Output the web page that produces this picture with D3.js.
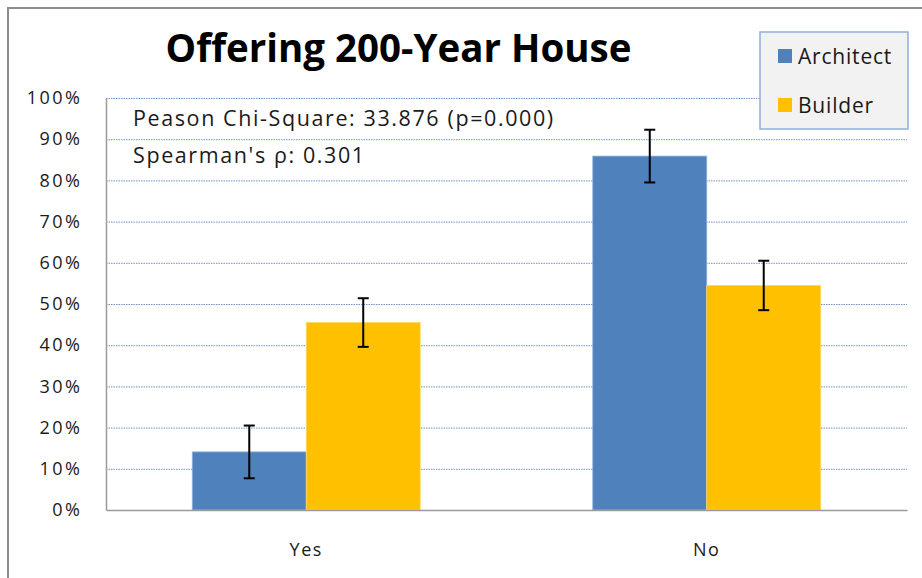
<!DOCTYPE html>
<html>
<head>
<meta charset="utf-8">
<script src="https://cdn.jsdelivr.net/npm/d3@7"></script>
<style>
  body { margin: 0; background: #fff; }
  svg { display: block; font-family: "Open Sans", Lato, sans-serif; }
</style>
</head>
<body>
<div id="chart"></div>
<script>
// data
var categories = ["Yes", "No"]
var series = ["Architect", "Builder"]
var architect = [0.141, 0.859]
var builder = [0.455, 0.545]
var architectErr = [0.064, 0.064]
var builderErr = [0.059, 0.060]
var yTicks = [0, 0.1, 0.2, 0.3, 0.4, 0.5, 0.6, 0.7, 0.8, 0.9, 1.0]
var title = "Offering 200-Year House"
var notes = ["Peason Chi-Square: 33.876 (p=0.000)", "Spearman's \u03c1: 0.301"]

var colors = { Architect: "#4f81bd", Builder: "#ffc000" }

var rows = categories.map((c, i) => ({
    cat: c,
    vals: [
        { key: "Architect", v: architect[i], e: architectErr[i] },
        { key: "Builder", v: builder[i], e: builderErr[i] }
    ]
}))

var width = 922, height = 578
var plot = { left: 106, right: 907, top: 98, bottom: 510 }

var svg = d3.select("#chart").append("svg")
    .attr("width", width)
    .attr("height", height)

// outer chart frame (cropped on right / bottom)
svg.append("rect")
    .attr("x", 8).attr("y", 8)
    .attr("width", width + 20).attr("height", height + 20)
    .attr("fill", "#fff")
    .attr("stroke", "#8c8c8c")
    .attr("stroke-width", 2)

var x = d3.scaleBand()
    .domain(categories)
    .range([plot.left, plot.right])

var xInner = d3.scaleBand()
    .domain(series)
    .range([0, x.bandwidth()])
    .paddingOuter(0.757)
    .paddingInner(0)

var y = d3.scaleLinear()
    .domain([0, 1])
    .range([plot.bottom, plot.top])

/* gridlines */
svg.append("g").attr("class", "grid")
    .selectAll("line")
    .data(yTicks.filter(d => d > 0))
    .enter().append("line")
    .attr("x1", plot.left).attr("x2", plot.right)
    .attr("y1", d => y(d) + 0.5).attr("y2", d => y(d) + 0.5)
    .attr("stroke", "#6f94c8")
    .attr("stroke-width", 1)
    .attr("stroke-dasharray", "1.5,1")

/* bars */
var groups = svg.append("g").selectAll(".grp")
    .data(rows).enter()
    .append("g")
    .attr("class", "grp")
    .attr("transform", d => `translate(${x(d.cat)},0)`)

groups.selectAll("rect")
    .data(d => d.vals).enter()
    .append("rect")
    .attr("x", d => xInner(d.key))
    .attr("y", d => y(d.v))
    .attr("width", xInner.bandwidth())
    .attr("height", d => y(0) - y(d.v))
    .attr("fill", d => colors[d.key])
    .attr("stroke", d => d.key == "Architect" ? "#8fb0da" : "#ffd866")
    .attr("stroke-width", 0.8)

/* error bars */
var eb = groups.selectAll(".err")
    .data(d => d.vals).enter()
    .append("g").attr("class", "err")
    .attr("stroke", "#000")
    .attr("stroke-width", 2)
var cx = d => xInner(d.key) + xInner.bandwidth() / 2
eb.append("line")
    .attr("x1", cx).attr("x2", cx)
    .attr("y1", d => y(d.v + d.e)).attr("y2", d => y(d.v - d.e))
eb.append("line")
    .attr("x1", d => cx(d) - 5.5).attr("x2", d => cx(d) + 5.5)
    .attr("y1", d => y(d.v + d.e)).attr("y2", d => y(d.v + d.e))
eb.append("line")
    .attr("x1", d => cx(d) - 5.5).attr("x2", d => cx(d) + 5.5)
    .attr("y1", d => y(d.v - d.e)).attr("y2", d => y(d.v - d.e))

/* axes */
var yAxis = d3.axisLeft(y).tickValues(yTicks).tickFormat(d3.format(".0%")).tickSize(0).tickPadding(23.5)
var gy = svg.append("g")
    .attr("transform", `translate(${plot.left},0)`)
    .call(yAxis)
gy.select(".domain").attr("stroke", "#9a9a9a").attr("stroke-width", 1.5)
gy.selectAll("text")
    .style("font-family", "'Open Sans', sans-serif")
    .style("font-size", "18px")
    .style("letter-spacing", "2.5px")
    .attr("fill", "#1a1a1a")

var xAxis = d3.axisBottom(x).tickSize(0).tickPadding(33)
var gx = svg.append("g")
    .attr("transform", `translate(0,${plot.bottom})`)
    .call(xAxis)
gx.select(".domain").attr("stroke", "#9a9a9a").attr("stroke-width", 1.5)
gx.selectAll("text")
    .style("font-family", "'Open Sans', sans-serif")
    .style("font-size", "18px")
    .style("letter-spacing", "1.6px")
    .attr("fill", "#1a1a1a")

/* title */
svg.append("text")
    .attr("x", 398.5).attr("y", 62)
    .attr("text-anchor", "middle")
    .style("font-size", "38.5px")
    .style("font-weight", "bold")
    .attr("fill", "#000")
    .text(title)

/* stats notes */
svg.append("g").selectAll("text")
    .data(notes).enter()
    .append("text")
    .attr("x", 133)
    .attr("y", (d, i) => 126 + i * 36.5)
    .style("font-size", "21.5px")
    .style("letter-spacing", "1.6px")
    .attr("fill", "#1a1a1a")
    .text(d => d)

/* legend */
var lg = svg.append("g").attr("transform", "translate(760,32)")
lg.append("rect")
    .attr("width", 148).attr("height", 97)
    .attr("fill", "#f2f2f2")
    .attr("stroke", "#8eb0dc")
    .attr("stroke-width", 1.5)
var li = lg.selectAll(".li")
    .data(series).enter()
    .append("g")
    .attr("transform", (d, i) => `translate(18,${17 + i * 49})`)
li.append("rect")
    .attr("width", 14).attr("height", 14)
    .attr("fill", d => colors[d])
li.append("text")
    .attr("x", 20).attr("y", 14.5)
    .style("font-size", "21px")
    .style("letter-spacing", "0.8px")
    .attr("fill", "#1a1a1a")
    .text(d => d)
</script>
</body>
</html>
